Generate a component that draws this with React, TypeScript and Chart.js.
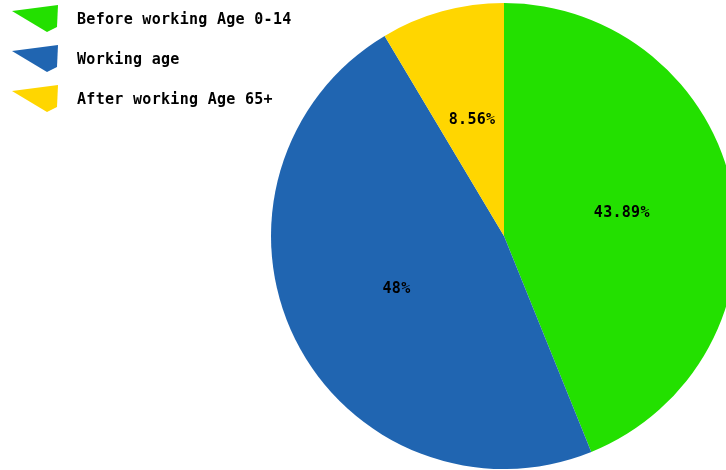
import React, { useEffect, useRef } from "react";
import { Chart, registerables } from "chart.js";

Chart.register(...registerables);

const categories = ["Before working Age 0-14", "Working age", "After working Age 65+"];
const values = [43.89, 47.55, 8.56];
const valueLabels = ["43.89%", "48%", "8.56%"];
const colors = ["#23E000", "#2065B1", "#FFD600"];

const FONT = "bold 15px 'DejaVu Sans Mono', monospace";

const overlayPlugin = {
  id: "overlay",
  afterDraw(chart: any) {
    const ctx = chart.ctx as CanvasRenderingContext2D;
    ctx.save();
    ctx.font = FONT;
    (ctx as any).letterSpacing = "0.3px";
    ctx.fillStyle = "#000";
    ctx.textBaseline = "middle";
    // slice labels
    const meta = chart.getDatasetMeta(0);
    ctx.textAlign = "center";
    meta.data.forEach((arc: any, i: number) => {
      const { x, y, startAngle, endAngle, outerRadius } = arc.getProps(
        ["x", "y", "startAngle", "endAngle", "outerRadius"],
        true
      );
      const mid = (startAngle + endAngle) / 2;
      const r = outerRadius * 0.515;
      ctx.fillStyle = "#000";
      ctx.fillText(valueLabels[i], x + Math.cos(mid) * r, y + Math.sin(mid) * r);
    });
    // legend
    ctx.textAlign = "left";
    categories.forEach((name, i) => {
      const dy = i * 40;
      ctx.fillStyle = colors[i];
      ctx.beginPath();
      ctx.moveTo(12, 11 + dy);
      ctx.lineTo(58, 5 + dy);
      ctx.lineTo(57, 27 + dy);
      ctx.lineTo(47, 32 + dy);
      ctx.closePath();
      ctx.fill();
      ctx.fillStyle = "#000";
      ctx.fillText(name, 77, 20 + dy);
    });
    ctx.restore();
  },
};

export default function App() {
  const ref = useRef<HTMLCanvasElement | null>(null);
  useEffect(() => {
    if (!ref.current) return;
    const chart = new Chart(ref.current, {
      type: "pie",
      data: {
        labels: categories,
        datasets: [
          {
            data: values,
            backgroundColor: colors,
            borderWidth: 0,
          },
        ],
      },
      options: {
        animation: false,
        responsive: false,
        maintainAspectRatio: false,
        layout: { padding: { left: 271, right: 23, top: 3, bottom: 1 } },
        plugins: {
          legend: { display: false },
          tooltip: { enabled: false },
        },
      },
      plugins: [overlayPlugin],
    });
    return () => chart.destroy();
  }, []);
  return (
    <div
      style={{
        position: "fixed",
        left: 0,
        top: 0,
        width: 726,
        height: 470,
        overflow: "hidden",
        background: "#fff",
      }}
    >
      <canvas ref={ref} width={760} height={470} style={{ display: "block", width: 760, height: 470 }} />
    </div>
  );
}
